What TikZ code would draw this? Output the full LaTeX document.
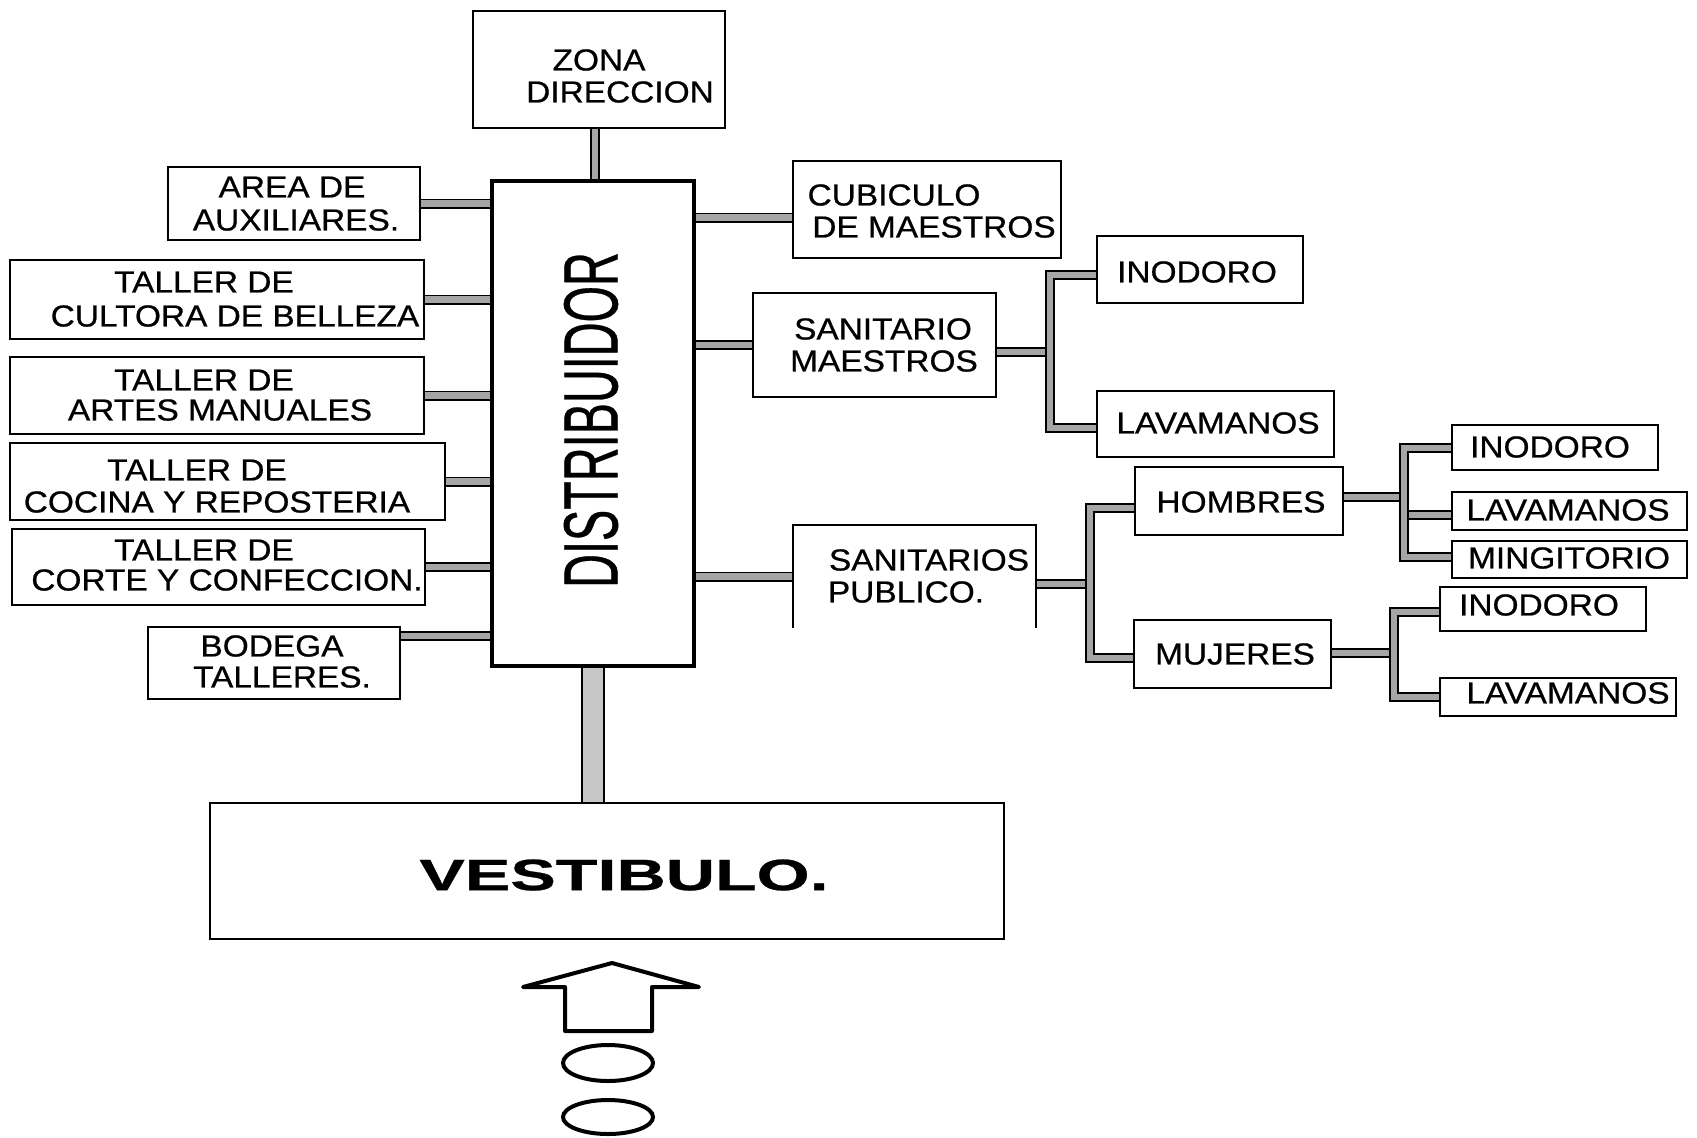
\documentclass[tikz,border=0pt]{standalone}
\usepackage{fontspec}
\setmainfont{Liberation Sans}[FakeBold=0.6]
\usepackage{graphicx}
\usetikzlibrary{fit,calc,shapes.geometric}
\pgfdeclarelayer{background}
\pgfsetlayers{background,main}
\newcommand\wl[1]{\scalebox{1.1}[1]{#1}}
\begin{document}
\begin{tikzpicture}[x=0.5pt,y=-0.5pt,
  box/.style={draw, line width=1pt, fill=white, inner sep=0pt, outer sep=0pt},
  openbox/.style={fill=white, inner sep=0pt, outer sep=0pt},
  distbox/.style={draw, line width=2pt, fill=white, inner sep=0pt, outer sep=0pt},
  txt/.style={inner sep=0pt, font=\fontsize{15.2}{18}\selectfont},
  pipe/.style={draw=black, line width=0.9pt, double=gray!70, double distance=3.2pt},
  widepipe/.style={draw=black, line width=1pt, double=gray!45, double distance=10pt},
  oval/.style={draw, ellipse, line width=2pt, inner sep=0pt, minimum width=45pt},
]
\useasboundingbox (0,0) rectangle (1697,1137);
% boxes
\node[box, fit={(473,11) (725,128)}] (zona) {};
\node[distbox, fit={(492,181) (694,666)}] (dist) {};
\node[box, fit={(168,167) (420,240)}] (area) {};
\node[box, fit={(10,260) (424,339)}] (cult) {};
\node[box, fit={(10,357) (424,434)}] (artes) {};
\node[box, fit={(10,443) (445,520)}] (cocina) {};
\node[box, fit={(12,529) (425,605)}] (corte) {};
\node[box, fit={(148,627) (400,699)}] (bodega) {};
\node[box, fit={(793,161) (1061,258)}] (cub) {};
\node[box, fit={(753,293) (996,397)}] (sm) {};
\node[box, fit={(1097,236) (1303,303)}] (ino1) {};
\node[box, fit={(1097,391) (1334,457)}] (lav1) {};
\node[openbox, fit={(793,525) (1036,628)}] (sp) {};
\draw[line width=1pt] (sp.south west) -- (sp.north west) -- (sp.north east) -- (sp.south east);
\node[box, fit={(1135,467) (1343,535)}] (hom) {};
\node[box, fit={(1134,620) (1331,688)}] (muj) {};
\node[box, fit={(1452,425) (1658,470)}] (ino2) {};
\node[box, fit={(1452,492) (1687,530)}] (lav2) {};
\node[box, fit={(1452,541) (1687,578)}] (ming) {};
\node[box, fit={(1440,587) (1646,631)}] (ino3) {};
\node[box, fit={(1440,678) (1676,716)}] (lav3) {};
\node[box, fit={(210,803) (1004,939)}] (vest) {};
% texts
\node[txt] (zonaA) at (599,60) {\wl{ZONA}};
\node[txt] (zonaB) at (620,92) {\wl{DIRECCION}};
\node[inner sep=0pt, rotate=90] (distT) at (591,420) {\scalebox{0.61}[1]{\fontsize{38.4}{40}\selectfont DISTRIBUIDOR}};
\node[txt] (areaA) at (292,187) {\wl{AREA DE}};
\node[txt] (areaB) at (296,220) {\wl{AUXILIARES.}};
\node[txt] (cultA) at (204,282) {\wl{TALLER DE}};
\node[txt] (cultB) at (235,316) {\wl{CULTORA DE BELLEZA}};
\node[txt] (artA) at (204,380) {\wl{TALLER DE}};
\node[txt] (artB) at (220,410) {\wl{ARTES MANUALES}};
\node[txt] (cocA) at (197,470) {\wl{TALLER DE}};
\node[txt] (cocB) at (217,502) {\wl{COCINA Y REPOSTERIA}};
\node[txt] (corA) at (204,550) {\wl{TALLER DE}};
\node[txt] (corB) at (227,580) {\wl{CORTE Y CONFECCION.}};
\node[txt] (bodA) at (272,646) {\wl{BODEGA}};
\node[txt] (bodB) at (282,677) {\wl{TALLERES.}};
\node[txt] (cubA) at (894,195) {\wl{CUBICULO}};
\node[txt] (cubB) at (934,227) {\wl{DE MAESTROS}};
\node[txt] (smA) at (883,329) {\wl{SANITARIO}};
\node[txt] (smB) at (884,361) {\wl{MAESTROS}};
\node[txt] (ino1T) at (1197,272) {\wl{INODORO}};
\node[txt] (lav1T) at (1218,423) {\wl{LAVAMANOS}};
\node[txt] (spA) at (929,560) {\wl{SANITARIOS}};
\node[txt] (spB) at (906,592) {\wl{PUBLICO.}};
\node[txt] (homT) at (1241,502) {\wl{HOMBRES}};
\node[txt] (mujT) at (1235,654) {\wl{MUJERES}};
\node[txt] (ino2T) at (1550,447) {\wl{INODORO}};
\node[txt] (lav2T) at (1568,510) {\wl{LAVAMANOS}};
\node[txt] (mingT) at (1569,558) {\wl{MINGITORIO}};
\node[txt] (ino3T) at (1539,605) {\wl{INODORO}};
\node[txt] (lav3T) at (1568,693) {\wl{LAVAMANOS}};
\node[inner sep=0pt] (vestT) at (624,875) {\scalebox{1.55}[1]{\fontsize{22}{26}\selectfont\bfseries VESTIBULO.}};
% entrance arrow and ovals
\draw[line width=2pt, line join=round] (523,987) -- (612,963) -- (699,987) -- (652,987) -- (652,1031) -- (565,1031) -- (565,987) -- cycle;
\node[oval, minimum height=18pt] (ov1) at (608,1063) {};
\node[oval, minimum height=17pt] (ov2) at (608,1117) {};
% coordinates
\coordinate (bodc) at ([yshift=-4.5pt]bodega.north east);
\coordinate (cubc) at ([yshift=-4pt]cub.west);
\coordinate (smT) at (1050,275);
\coordinate (smBt) at (1050,428);
\coordinate (smJ) at (1050,352);
\coordinate (spT) at (1090,508);
\coordinate (spBt) at (1090,658);
\coordinate (spJ) at (1090,584);
\coordinate (hT) at (1404,448);
\coordinate (hB) at (1404,557);
\coordinate (hJ) at (1404,497);
\coordinate (hM) at (1404,515);
\coordinate (mT) at (1394,612);
\coordinate (mB) at (1394,697);
\coordinate (mJ) at (1394,653);
\begin{pgfonlayer}{background}
\fill[white] (0,0) rectangle (1697,1137);
\draw[pipe] ([xshift=-2pt]zona.south) -- ([xshift=-2pt]zona.south |- dist.north);
\draw[widepipe] (dist.south) -- (dist.south |- vest.north);
\draw[pipe] (area.east) -- (area.east -| dist.west);
\draw[pipe] (cult.east) -- (cult.east -| dist.west);
\draw[pipe] (artes.east) -- (artes.east -| dist.west);
\draw[pipe] (cocina.east) -- (cocina.east -| dist.west);
\draw[pipe] (corte.east) -- (corte.east -| dist.west);
\draw[pipe] (bodc) -- (bodc -| dist.west);
\draw[pipe] (cubc -| dist.east) -- (cubc);
\draw[pipe] (sm.west -| dist.east) -- (sm.west);
\draw[pipe] (sp.west -| dist.east) -- (sp.west);
\draw[pipe] (sm.east |- smJ) -- (smJ);
\draw[pipe] (ino1.west |- smT) -- (smT) -- (smBt) -- (lav1.west |- smBt);
\draw[pipe] (sp.east |- spJ) -- (spJ);
\draw[pipe] (hom.west |- spT) -- (spT) -- (spBt) -- (muj.west |- spBt);
\draw[pipe] (hom.east |- hJ) -- (hJ);
\draw[pipe] (hM) -- (lav2.west |- hM);
\draw[pipe] (ino2.west |- hT) -- (hT) -- (hB) -- (ming.west |- hB);
\draw[pipe] (muj.east |- mJ) -- (mJ);
\draw[pipe] (ino3.west |- mT) -- (mT) -- (mB) -- (lav3.west |- mB);
\end{pgfonlayer}
\end{tikzpicture}
\end{document}
